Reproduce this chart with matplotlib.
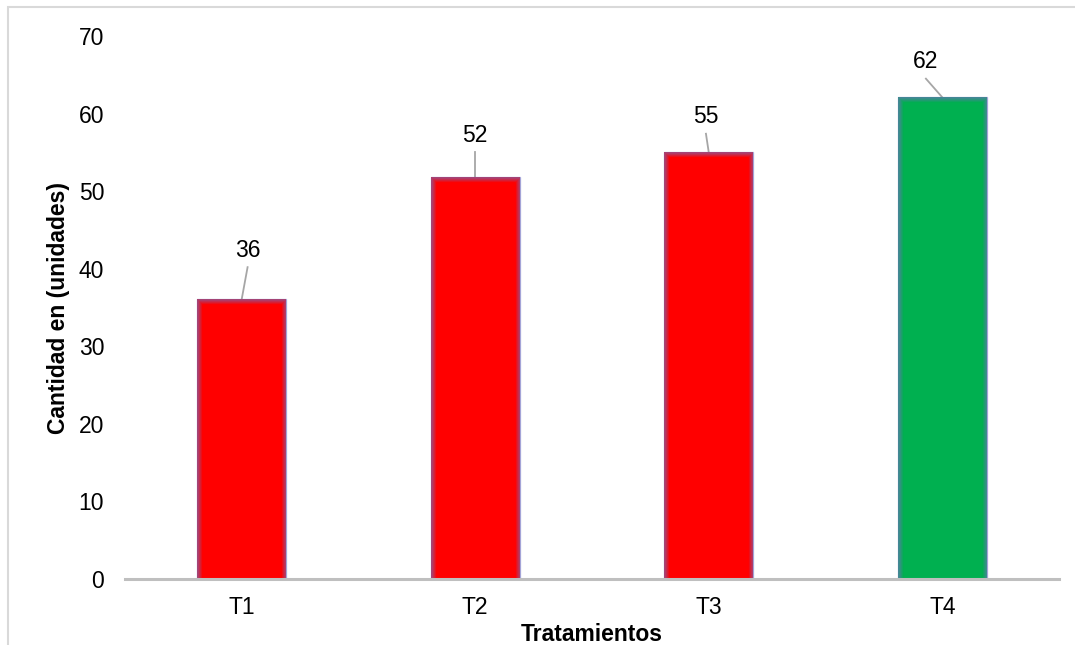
import matplotlib
matplotlib.use('Agg')
import matplotlib.pyplot as plt
import matplotlib.patches as patches
import numpy as np

matplotlib.rc('font', family=['Liberation Sans', 'DejaVu Sans'], size=16.5)

categories = ['T1', 'T2', 'T3', 'T4']
values = [36.1, 51.8, 55.0, 62.1]
bar_colors = ['#ff0000', '#ff0000', '#ff0000', '#00b050']
# data label placement: x offset from bar centre, y in data units
label_dx = [0.025, 0.0, -0.012, -0.07]
label_y = [42.4, 57.2, 59.6, 66.7]

fig = plt.figure(figsize=(10.75, 6.45), dpi=100)
ax = fig.add_axes([125/1075, 1 - 579/645, (1059 - 125)/1075, (579 - 36)/645])

x = np.arange(len(categories))
w = 0.38
ax.bar(x, values, width=w, color=bar_colors, linewidth=0, zorder=2)

# soft bluish glow along the bar edges
px_x = 4.0 / 934   # one pixel in x data units
px_y = 70.0 / 543  # one pixel in y data units
for k in range(5):
    ax.bar(x, np.array(values) - k * px_y, width=w - 2 * k * px_x, fill=False,
           edgecolor='#6f6fc0', alpha=0.6 * (1 - k / 5.0), linewidth=0.9, zorder=3)

for xi, v, dx, ly in zip(x, values, label_dx, label_y):
    ax.text(xi + dx, ly, '%.0f' % v, ha='center', va='center', fontsize=16.5)
    ax.plot([xi + dx, xi], [ly - 2.2, v], color='#a6a6a6', lw=1.3, zorder=1)

ax.set_xlim(-0.5, 3.5)
ax.set_ylim(0, 70)
ax.set_xticks(x)
ax.set_xticklabels(categories)
ax.set_yticks(np.arange(0, 71, 10))
ax.tick_params(axis='both', length=0, labelsize=16.5)
ax.tick_params(axis='y', pad=15)
ax.tick_params(axis='x', pad=12)

for s in ['top', 'right', 'left']:
    ax.spines[s].set_visible(False)
ax.spines['bottom'].set_color('#bfbfbf')
ax.spines['bottom'].set_linewidth(2.2)
ax.spines['bottom'].set_zorder(4)

ax.set_ylabel('Cantidad en (unidades)', fontsize=16.5, fontweight='bold', labelpad=6)
fig.text(592/1075, 1 - 641/645, 'Tratamientos', ha='center', va='baseline',
         fontsize=16.5, fontweight='bold')

# outer chart border
fig.patches.append(patches.Rectangle((8/1075, -0.2), 1.2, 1 - 7/645 + 0.2,
                                     transform=fig.transFigure, fill=False,
                                     ec='#d9d9d9', lw=1.5))

fig.savefig('out.png', dpi=100)
